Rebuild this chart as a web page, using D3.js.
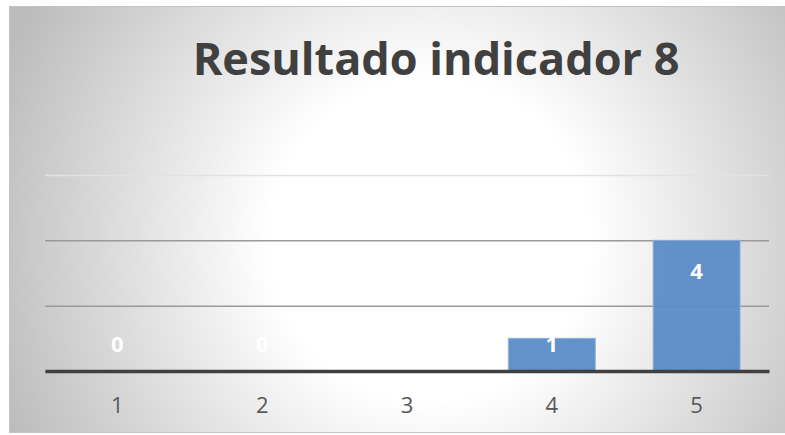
<!DOCTYPE html>
<html>
<head>
<meta charset="utf-8">
<script src="https://cdn.jsdelivr.net/npm/d3@7"></script>
<style>
  body { margin: 0; background: #fff; }
  svg { display: block; }
  .tick text { font-family: "Open Sans", sans-serif; }
</style>
</head>
<body>
<div id="chart"></div>
<script>
var categories = ["1", "2", "3", "4", "5"];
var values = [0, 0, 0, 1, 4];
var yTicks = [0, 2, 4, 6];
var chartTitle = "Resultado indicador 8";

var W = 785, H = 435;
var margin = {top: 175, right: 16, bottom: 64, left: 45},
    width = 769 - margin.left,
    height = 371 - margin.top;

var svg = d3.select("#chart")
        .append("svg")
        .attr("width", W)
        .attr("height", H);

var defs = svg.append("defs");
var grad = defs.append("radialGradient")
        .attr("id", "bg")
        .attr("gradientUnits", "userSpaceOnUse")
        .attr("cx", 430).attr("cy", 240).attr("r", 460);
grad.append("stop").attr("offset", "0%").attr("stop-color", "#ffffff");
grad.append("stop").attr("offset", "35%").attr("stop-color", "#ffffff");
grad.append("stop").attr("offset", "100%").attr("stop-color", "#bcbcbc");

// chart frame
svg.append("rect")
        .attr("x", 9.5).attr("y", 6.5)
        .attr("width", 790).attr("height", 426)
        .attr("fill", "url(#bg)")
        .attr("stroke", "#c4c4c4")
        .attr("stroke-width", 1);

var x = d3.scaleBand()
        .domain(categories)
        .range([0, width])
        .paddingInner(0.4)
        .paddingOuter(0.2);
var y = d3.scaleLinear()
        .domain([0, 6])
        .range([height, 0]);

var canvas = svg.append("g")
        .attr("transform", "translate(" + margin.left + "," + margin.top + ")");

// gridlines
canvas.append("g")
        .attr("class", "axis-y")
        .call(d3.axisLeft(y).tickValues(yTicks).tickSize(-width).tickFormat(""))
        .call(function (g) {
            g.select(".domain").remove();
            g.selectAll(".tick line")
                .attr("stroke", function (d) { return d === 6 ? "#e2e2e2" : "#9a9a9a"; })
                .attr("stroke-width", 1.5);
        });

canvas.selectAll("rect.bar")
        .data(values)
        .enter()
        .append("rect")
        .attr("class", "bar")
        .attr("x", function (d, i) { return x(categories[i]); })
        .attr("y", function (d) { return y(d); })
        .attr("width", x.bandwidth())
        .attr("height", function (d) { return height - y(d); })
        .attr("fill", "#5b8bc6")
        .attr("fill-opacity", 0.95)
        .attr("stroke", "#8fb0db")
        .attr("stroke-width", 1);

// x axis
canvas.append("g")
        .attr("class", "axis-x")
        .attr("transform", "translate(0," + height + ")")
        .call(d3.axisBottom(x).tickSize(0).tickPadding(26))
        .call(function (g) {
            g.select(".domain").attr("stroke", "#404040").attr("stroke-width", 3.5);
            g.selectAll("text")
                .attr("fill", "#595959")
                .style("font-size", "22px");
        });

// value labels
canvas.selectAll("text.label")
        .data(values)
        .enter()
        .append("text")
        .attr("class", "label")
        .attr("x", function (d, i) { return x(categories[i]) + x.bandwidth() / 2; })
        .attr("y", function (d) { return Math.min(y(d) + 31, height - 27); })
        .attr("dy", "0.35em")
        .attr("text-anchor", "middle")
        .attr("fill", "#ffffff")
        .style("font-family", "'Open Sans', sans-serif")
        .style("font-weight", "bold")
        .style("font-size", "22px")
        .text(function (d) { return d; });

svg.append("text")
        .attr("x", 436)
        .attr("y", 75)
        .attr("text-anchor", "middle")
        .attr("fill", "#404040")
        .style("font-family", "'Open Sans', sans-serif")
        .style("font-weight", "bold")
        .style("font-size", "45px")
        .text(chartTitle);
</script>
</body>
</html>
